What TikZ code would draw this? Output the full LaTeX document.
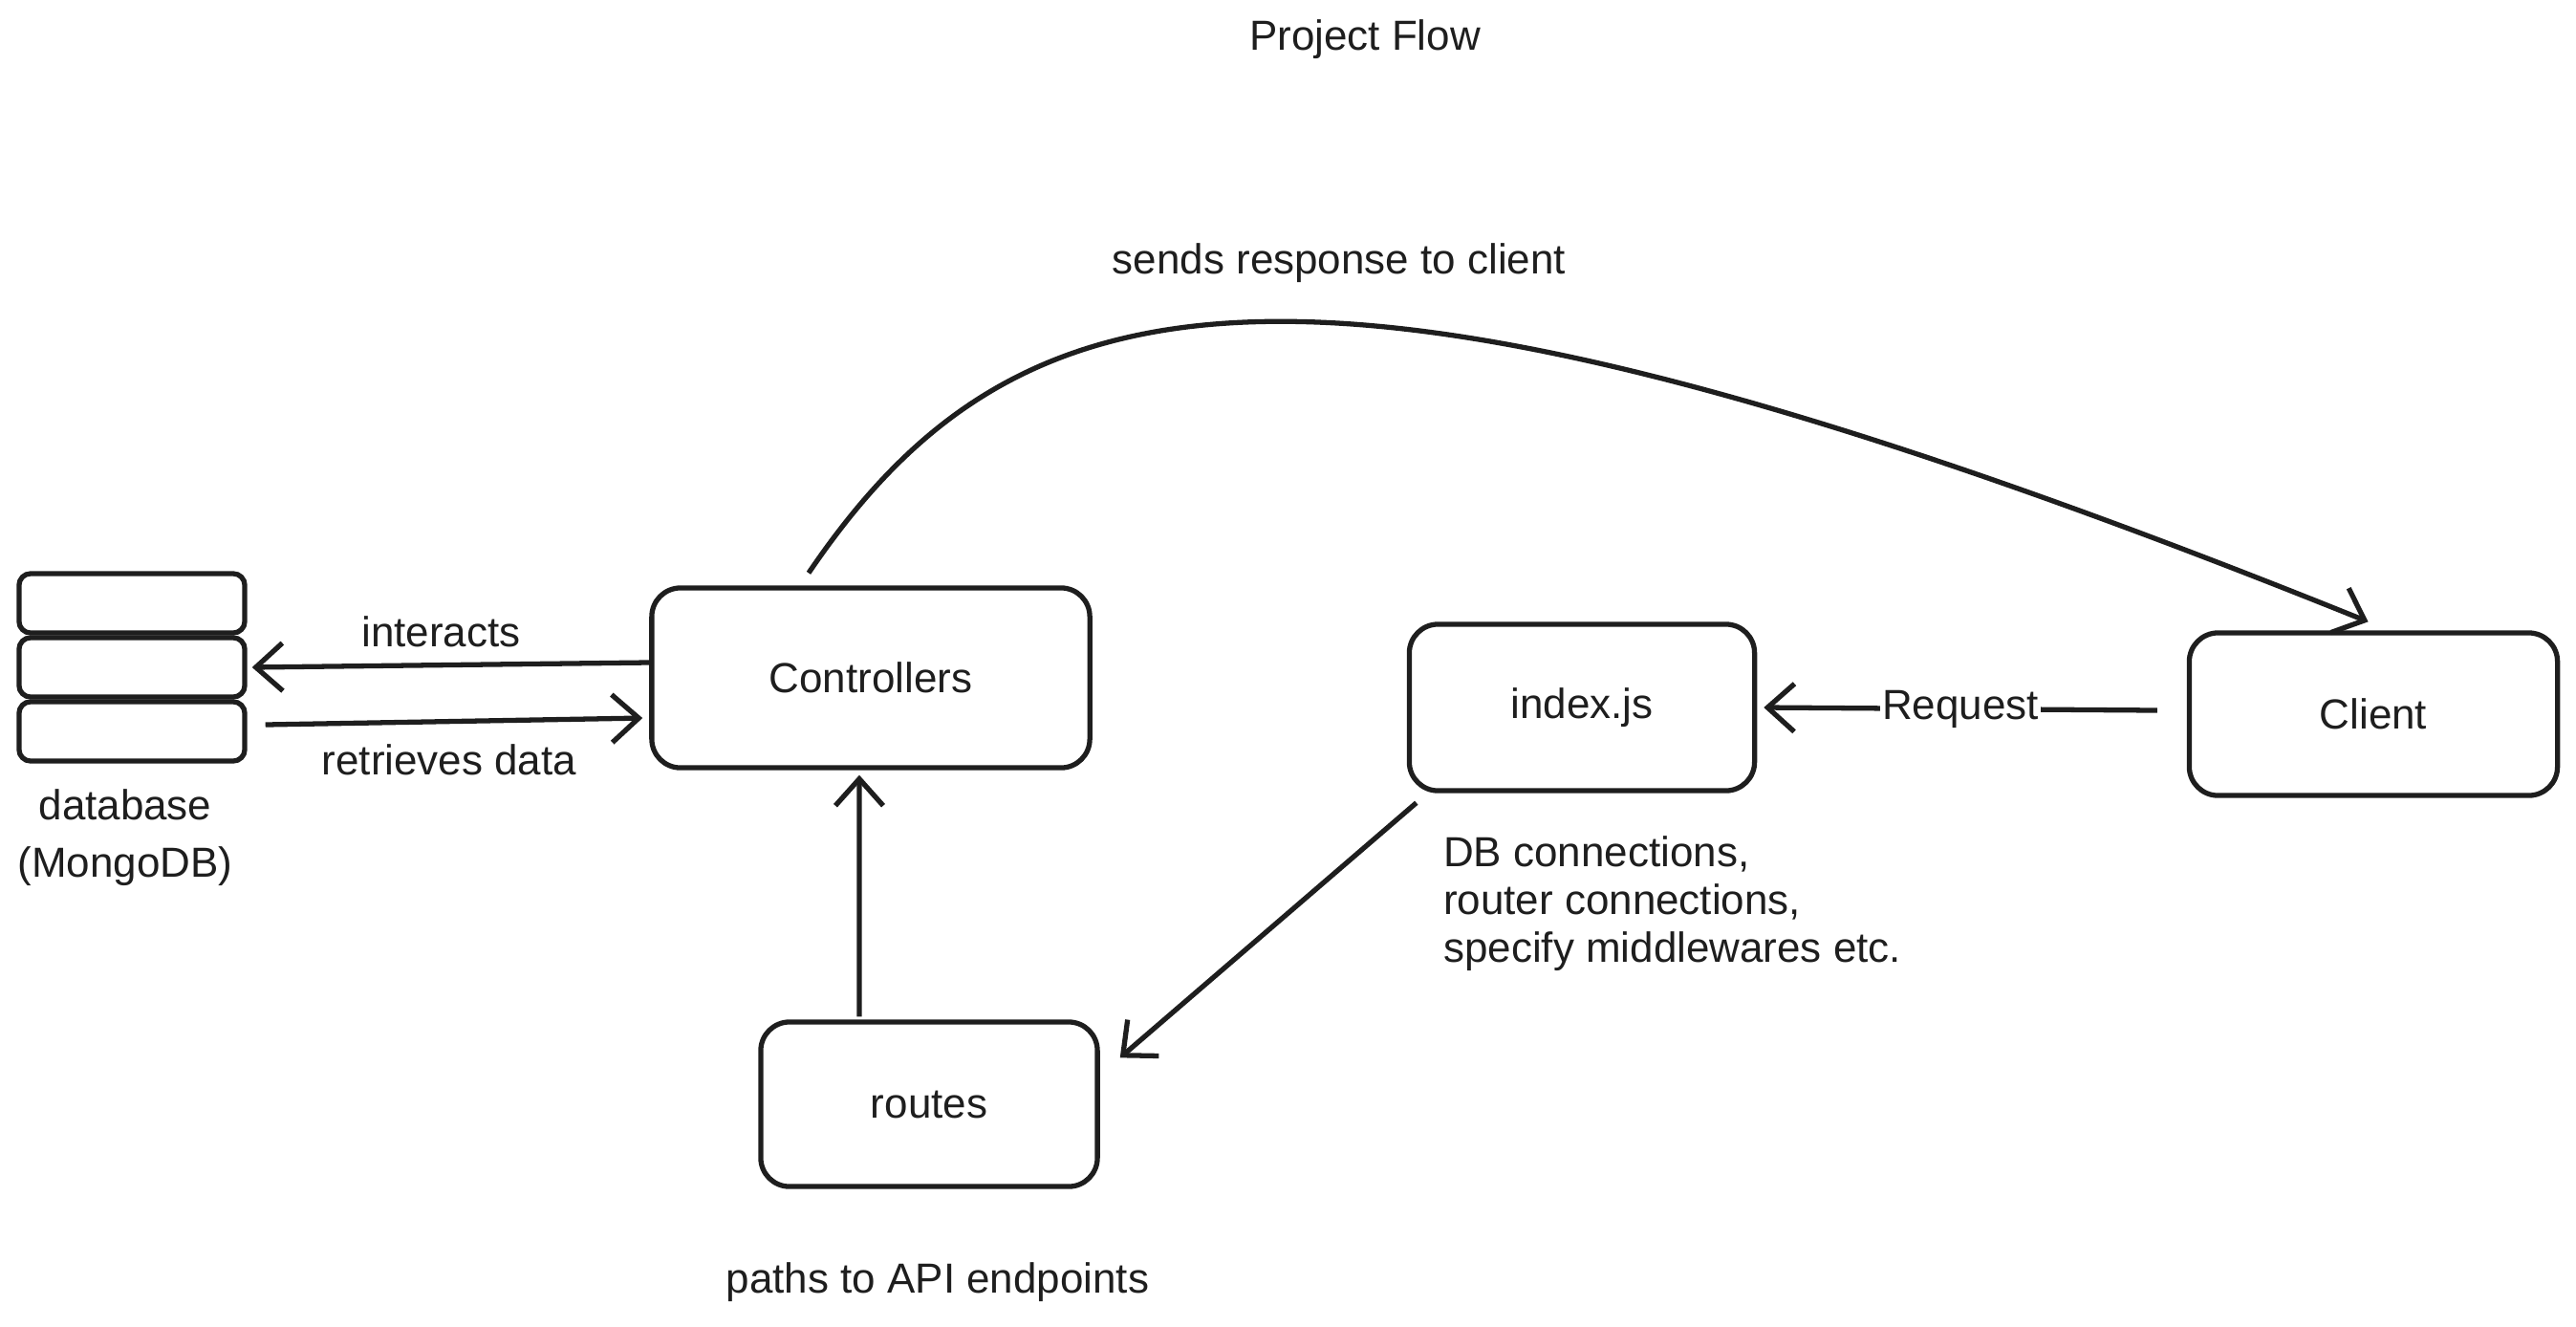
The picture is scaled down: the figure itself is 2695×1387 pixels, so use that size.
\documentclass[tikz,border=0pt]{standalone}
\usepackage{fontspec}
\setmainfont{Liberation Sans}
\usetikzlibrary{arrows.meta}
\definecolor{ink}{HTML}{1E1E1E}
\begin{document}
\begin{tikzpicture}[x=0.01cm,y=-0.01cm,
  font=\fontsize{12.5}{14.2}\selectfont, color=ink,
  box/.style={draw=ink, line width=1.5pt, rounded corners=0.3cm, inner sep=0pt, fill=white},
  dbbox/.style={draw=ink, line width=1.5pt, rounded corners=0.12cm, inner sep=0pt, minimum width=2.36cm, minimum height=0.62cm},
  arr/.style={draw=ink, line width=1.5pt, -{Straight Barb[length=0.28cm,width=0.5cm,line width=1.5pt]}},
  lbl/.style={inner sep=1pt, text=ink}
]
\useasboundingbox (0,0) rectangle (2695,1387);

% boxes
\node[box, minimum width=4.58cm, minimum height=1.88cm] (ctrl) at (911,709) {Controllers};
\node[box, minimum width=3.61cm, minimum height=1.74cm] (idx) at (1655,740) {index.js};
\node[box, minimum width=3.85cm, minimum height=1.70cm] (client) at (2483,747) {Client};
\node[box, minimum width=3.52cm, minimum height=1.72cm] (routes) at (972,1155) {routes};

% database
\node[dbbox] (db1) at (138,631) {};
\node[dbbox] (db2) at (138,698) {};
\node[dbbox] (db3) at (138,765) {};
\node[lbl] (dbname) at (131,842) {database};
\node[lbl] (dbkind) at (131,906) {(MongoDB)};

% texts
\node[lbl] (title) at (1428,41) {Project Flow};
\node[lbl] (sends) at (1401,275) {sends response to client};
\node[lbl] (paths) at (981,1341) {paths to API endpoints};
\node[lbl, anchor=west, align=left] (dbconn) at (1506,945) {DB connections,\\router connections,\\specify middlewares etc.};

% connectors
\draw[arr] ([yshift=0.16cm]ctrl.west) -- node[lbl, above=0.12cm, xshift=-0.1cm] (interacts) {interacts} ([xshift=0.05cm]db2.east);
\draw[arr] ([xshift=0.19cm,yshift=0.07cm]db3.east) -- node[lbl, below=0.18cm, xshift=-0.05cm] (retrieves) {retrieves data} ([xshift=-0.07cm,yshift=-0.42cm]ctrl.west);
\draw[arr] ([xshift=-0.31cm,yshift=0.04cm]client.west) -- node[lbl, fill=white, inner sep=0.5pt] (request) {Request} ([xshift=0.07cm]idx.east);
\draw[arr] ([xshift=0.1cm,yshift=-0.1cm]idx.south west) -- ([xshift=0.21cm,yshift=-0.4cm]routes.north east);
\draw[arr] ([xshift=-0.73cm,yshift=0.03cm]routes.north) -- ([xshift=-0.12cm,yshift=-0.05cm]ctrl.south);
\draw[arr] ([xshift=-0.65cm,yshift=0.13cm]ctrl.north) .. controls (1066,275) and (1375,206) .. ([xshift=-0.055cm,yshift=0.09cm]client.north);
\end{tikzpicture}
\end{document}
